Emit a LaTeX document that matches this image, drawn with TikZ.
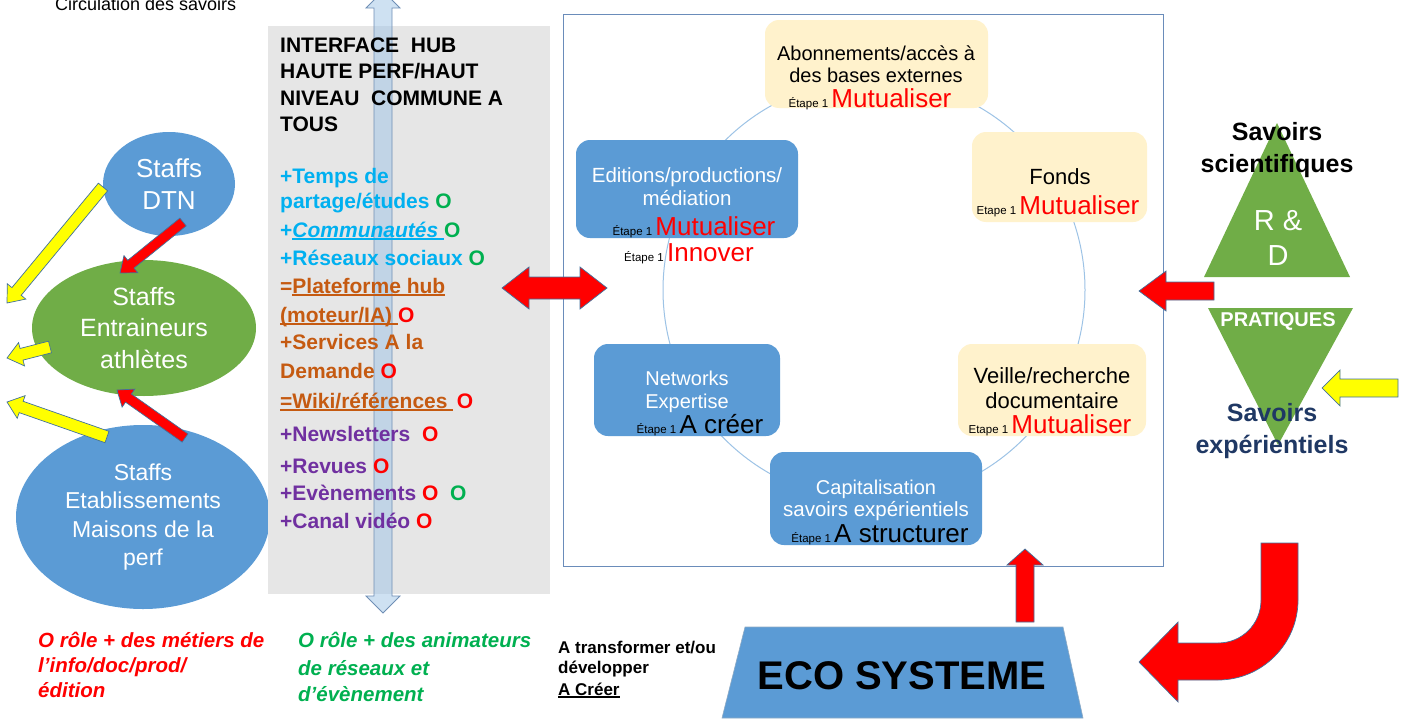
\documentclass[tikz,border=0pt]{standalone}
\usepackage{fontspec}
\setmainfont{Liberation Sans}
\usetikzlibrary{calc,shapes.geometric}
\definecolor{cyanT}{HTML}{00B0F0}
\definecolor{orgT}{HTML}{C55A11}
\definecolor{purT}{HTML}{7030A0}
\definecolor{redT}{HTML}{FF0000}
\definecolor{grnT}{HTML}{00B050}
\definecolor{blueF}{HTML}{5B9BD5}
\definecolor{greenF}{HTML}{70AD47}
\definecolor{creamF}{HTML}{FFF2CC}
\definecolor{navyT}{HTML}{1F3864}
\definecolor{grayF}{HTML}{E6E6E6}
\definecolor{edgeC}{HTML}{41719C}
\definecolor{frameC}{HTML}{6A8CBA}
\definecolor{ringC}{HTML}{9DC3E6}
\definecolor{yelF}{HTML}{FFFF00}
\definecolor{vArrF}{HTML}{9DC3E6}
\definecolor{vArrD}{HTML}{6F8FB5}

\newcommand\fsz[2]{\fontsize{#1}{#2}\selectfont}
\newcommand\myul[1]{\setbox0\hbox{#1}\rlap{\rule[-2.6pt]{\wd0}{1.5pt}}\box0}

% block arrow: style, from, to, shaft half width, head half width, head length
\newcommand\blockarrow[6]{%
  \path let \p1=(#2), \p2=(#3), \n1={atan2(\y2-\y1,\x2-\x1)}, \n2={veclen(\x2-\x1,\y2-\y1)} in
    \pgfextra{\pgfmathparse{\n1}\xdef\baAng{\pgfmathresult}\pgfmathparse{\n2}\xdef\baLen{\pgfmathresult}};
  \pgfmathsetmacro\baBase{\baLen-#6}%
  \draw[#1, shift={(#2)}, rotate=\baAng] (0,-#4) -- (\baBase,-#4) -- (\baBase,-#5) -- (\baLen,0)
     -- (\baBase,#5) -- (\baBase,#4) -- (0,#4) -- cycle;%
}
\newcommand\dblarrow[6]{%
  \path let \p1=(#2), \p2=(#3), \n1={atan2(\y2-\y1,\x2-\x1)}, \n2={veclen(\x2-\x1,\y2-\y1)} in
    \pgfextra{\pgfmathparse{\n1}\xdef\baAng{\pgfmathresult}\pgfmathparse{\n2}\xdef\baLen{\pgfmathresult}};
  \pgfmathsetmacro\baBase{\baLen-#6}%
  \draw[#1, shift={(#2)}, rotate=\baAng] (0,0) -- (#6,-#5) -- (#6,-#4) -- (\baBase,-#4) -- (\baBase,-#5)
     -- (\baLen,0) -- (\baBase,#5) -- (\baBase,#4) -- (#6,#4) -- (#6,#5) -- cycle;%
}

\tikzset{
  tl/.style={anchor=base west, inner sep=0pt},
  tc/.style={anchor=base, inner sep=0pt},
  rbox/.style={rounded corners=14pt, inner sep=0pt},
  arrR/.style={fill=redT, draw=edgeC, line width=0.7pt},
  arrY/.style={fill=yelF, draw=edgeC, line width=0.7pt},
  ell/.style={ellipse, inner sep=0pt, text=white, align=center},
}

\begin{document}
\begin{tikzpicture}[x=1pt,y=-1pt]
\useasboundingbox (0,0) rectangle (1408,720);

% title
\node[tl, font=\fsz{18}{20}] (title) at (55,10) {Circulation des savoirs};

% left ellipses
\node[ell, fill=blueF, minimum width=132pt, minimum height=104pt, font=\fsz{26}{32}] (dtn) at (169,184) {Staffs\\DTN};
\node[ell, fill=greenF, minimum width=224pt, minimum height=136pt, font=\fsz{25}{31.5}] (ent) at (144,328) {Staffs\\Entraineurs\\athlètes};
\node[ell, fill=blueF, minimum width=254pt, minimum height=184pt, font=\fsz{23}{28.5}] (eta) at (143,517) {Staffs\\Etablissements\\Maisons de la\\perf};

% left arrows
\coordinate (ya1) at (103,187); \coordinate (ya2) at (7,303);
\coordinate (ra1) at (183,222); \coordinate (ra2) at (120,273);
\coordinate (yb1) at (50,347);  \coordinate (yb2) at (7,358);
\coordinate (yc1) at (107,437); \coordinate (yc2) at (7,402);
\coordinate (rb1) at (185,438); \coordinate (rb2) at (117,390);
\blockarrow{arrY}{ya1}{ya2}{6}{12}{15}
\blockarrow{arrR}{ra1}{ra2}{5}{11}{14}
\blockarrow{arrY}{yb1}{yb2}{6}{12}{15}
\blockarrow{arrY}{yc1}{yc2}{6}{12}{15}
\blockarrow{arrR}{rb1}{rb2}{5}{11}{14}

% gray panel
\node[fill=grayF, minimum width=282pt, minimum height=568pt, inner sep=0pt] (panel) at (409,310) {};

% vertical double arrow
\coordinate (vTop) at (383,-9); \coordinate (vBot) at (383,613);
\dblarrow{fill=vArrF, fill opacity=0.5, draw=vArrD, line width=0.8pt}{vTop}{vBot}{9}{17}{17}

% panel text
\begin{scope}[every node/.style={tl}]
\node[font=\fsz{21}{24}\bfseries] (h1) at (280,52) {INTERFACE\ \ HUB};
\node[font=\fsz{21}{24}\bfseries] (h2) at (280,78) {HAUTE PERF/HAUT};
\node[font=\fsz{21}{24}\bfseries] (h3) at (280,105) {NIVEAU\ \ COMMUNE A};
\node[font=\fsz{21}{24}\bfseries] (h4) at (280,131) {TOUS};
\node[font=\fsz{21}{24}\bfseries, text=cyanT] (i1) at (280,183) {+Temps de};
\node[font=\fsz{21}{24}\bfseries, text=cyanT] (i2) at (280,208) {partage/études {\color{grnT}O}};
\node[font=\fsz{21}{24}\bfseries, text=cyanT] (i3) at (280,237) {+\myul{\itshape Communautés }{\color{grnT}O}};
\node[font=\fsz{21}{24}\bfseries, text=cyanT] (i4) at (280,265) {+Réseaux sociaux {\color{grnT}O}};
\node[font=\fsz{21}{24}\bfseries, text=orgT] (i5) at (280,293) {=\myul{Plateforme hub}};
\node[font=\fsz{21}{24}\bfseries, text=orgT] (i6) at (280,322) {\myul{(moteur/IA) }{\color{redT}O}};
\node[font=\fsz{21}{24}\bfseries, text=orgT] (i7) at (280,349) {+Services A la};
\node[font=\fsz{21}{24}\bfseries, text=orgT] (i8) at (280,378) {Demande {\color{redT}O}};
\node[font=\fsz{21}{24}\bfseries, text=orgT] (i9) at (280,408) {\myul{=Wiki/références }\,{\color{redT}O}};
\node[font=\fsz{21}{24}\bfseries, text=purT] (i10) at (280,441) {+Newsletters \ {\color{redT}O}};
\node[font=\fsz{21}{24}\bfseries, text=purT] (i11) at (280,473) {+Revues {\color{redT}O}};
\node[font=\fsz{21}{24}\bfseries, text=purT] (i12) at (280,500) {+Evènements {\color{redT}O} \ {\color{grnT}O}};
\node[font=\fsz{21}{24}\bfseries, text=purT] (i13) at (280,528) {+Canal vidéo {\color{redT}O}};
\end{scope}

% main frame
\node[draw=frameC, line width=0.9pt, fill=white, minimum width=600pt, minimum height=552pt, inner sep=0pt] (frame) at (863,290) {};
\node[circle, draw=ringC, line width=1pt, minimum size=422pt, inner sep=0pt] (ring) at (874,290) {};

% red double arrow panel <-> frame
\coordinate (dL) at (502,288); \coordinate (dR) at (607,288);
\dblarrow{arrR}{dL}{dR}{11}{21}{27}

% boxes
\node[rbox, fill=creamF, minimum width=223pt, minimum height=88pt] (abo) at (876.5,64) {};
\node[rbox, fill=creamF, minimum width=175pt, minimum height=90pt] (fon) at (1059.5,177) {};
\node[rbox, fill=blueF, minimum width=222pt, minimum height=98pt] (edi) at (687,189) {};
\node[rbox, fill=blueF, minimum width=186pt, minimum height=92pt] (net) at (687,390) {};
\node[rbox, fill=creamF, minimum width=188pt, minimum height=92pt] (vei) at (1052,390) {};
\node[rbox, fill=blueF, minimum width=212pt, minimum height=93pt] (cap) at (876,498.5) {};

% box texts
\node[tc, font=\fsz{20}{22}] (abo1) at (876,60) {Abonnements/accès à};
\node[tc, font=\fsz{20}{22}] (abo2) at (876,82) {des bases externes};
\node[tc] (abo3) at (870,107) {\fsz{11.5}{12}Étape 1 \fsz{26}{28}\color{redT}Mutualiser};

\node[tc, font=\fsz{22}{24}] (fon1) at (1060,184) {Fonds};
\node[tc] (fon2) at (1058,214) {\fsz{11.5}{12}Etape 1 \fsz{26}{28}\color{redT}Mutualiser};

\node[tc, font=\fsz{20.5}{23}, text=white] (edi1) at (687,182) {Editions/productions/};
\node[tc, font=\fsz{20.5}{23}, text=white] (edi2) at (687,205) {médiation};
\node[tc] (edi3) at (694,235) {\fsz{11.5}{12}Étape 1 \fsz{26}{28}\color{redT}Mutualiser};
\node[tc] (edi4) at (689,261) {\fsz{11.5}{12}Étape 1 \fsz{26}{28}\color{redT}Innover};

\node[tc, font=\fsz{20}{23}, text=white] (net1) at (687,385) {Networks};
\node[tc, font=\fsz{20}{23}, text=white] (net2) at (687,408) {Expertise};
\node[tc] (net3) at (700,433) {\fsz{11.5}{12}Étape 1 \fsz{26}{28}A créer};

\node[tc, font=\fsz{22}{24}] (vei1) at (1052,383) {Veille/recherche};
\node[tc, font=\fsz{22}{24}] (vei2) at (1052,408) {documentaire};
\node[tc] (vei3) at (1050,433) {\fsz{11.5}{12}Etape 1 \fsz{26}{28}\color{redT}Mutualiser};

\node[tc, font=\fsz{20}{23}, text=white] (cap1) at (876,494) {Capitalisation};
\node[tc, font=\fsz{20.5}{23}, text=white] (cap2) at (876,516) {savoirs expérientiels};
\node[tc] (cap3) at (880,542) {\fsz{11.5}{12}Étape 1 \fsz{26}{28}A structurer};

% right side triangles
\draw[fill=greenF, draw=none] (1277,123) -- (1350,277) -- (1204,277) -- cycle;
\draw[fill=greenF, draw=none] (1208,308) -- (1353,308) -- (1278,445) -- cycle;
\node[text=white, font=\fsz{29}{35}, align=center, inner sep=0pt] (rd) at (1278,238) {R \&\\D};
\node[text=white, font=\fsz{20}{22}\bfseries, inner sep=0pt] (prat) at (1278,321) {PRATIQUES};
\node[font=\fsz{25}{32}\bfseries, align=center, inner sep=0pt] (sci) at (1277,150) {Savoirs\\scientifiques};
\node[font=\fsz{25}{32}\bfseries, align=center, inner sep=0pt, text=navyT] (exp) at (1272,431) {Savoirs\\expérientiels};

% right arrows
\coordinate (rr1) at (1214,291); \coordinate (rr2) at (1139,291);
\blockarrow{arrR}{rr1}{rr2}{9}{20}{27}
\coordinate (yr1) at (1398,388); \coordinate (yr2) at (1322,388);
\blockarrow{arrY}{yr1}{yr2}{9}{18}{18}

% eco systeme
\draw[fill=blueF, draw=edgeC!60, line width=0.6pt] (745,627) -- (1063,627) -- (1083,718) -- (722,718) -- cycle;
\node[font=\fsz{40}{44}\bfseries, inner sep=0pt] (eco) at (902,676) {ECO SYSTEME};

\coordinate (ru1) at (1025,622); \coordinate (ru2) at (1025,549);
\blockarrow{arrR}{ru1}{ru2}{9}{18}{16}

% U-turn arrow
\draw[arrR] (1261,543) -- (1298,543) -- (1298,600) .. controls (1298,644) and (1262,680) .. (1218,680)
  -- (1178,680) -- (1178,702) -- (1139,662) -- (1178,622) -- (1178,643) -- (1218,643)
  .. controls (1242,643) and (1261,624) .. (1261,600) -- cycle;

% bottom notes
\node[tl, font=\fsz{20.5}{25}\bfseries\itshape, text=redT] (n1) at (38,647) {O rôle + des métiers de};
\node[tl, font=\fsz{20.5}{25}\bfseries\itshape, text=redT] (n2) at (38,672) {l’info/doc/prod/};
\node[tl, font=\fsz{20.5}{25}\bfseries\itshape, text=redT] (n3) at (38,697) {édition};
\node[tl, font=\fsz{20.5}{25}\bfseries\itshape, text=grnT] (g1) at (298,647) {O rôle + des animateurs};
\node[tl, font=\fsz{20.5}{25}\bfseries\itshape, text=grnT] (g2) at (298,675) {de réseaux et};
\node[tl, font=\fsz{20.5}{25}\bfseries\itshape, text=grnT] (g3) at (298,701) {d’évènement};
\node[tl, font=\fsz{17}{20}\bfseries] (b1) at (558,653) {A transformer et/ou};
\node[tl, font=\fsz{17}{20}\bfseries] (b2) at (558,673) {développer};
\node[tl, font=\fsz{17}{20}\bfseries] (b3) at (558,695) {\myul{A Créer}};
\end{tikzpicture}
\end{document}
